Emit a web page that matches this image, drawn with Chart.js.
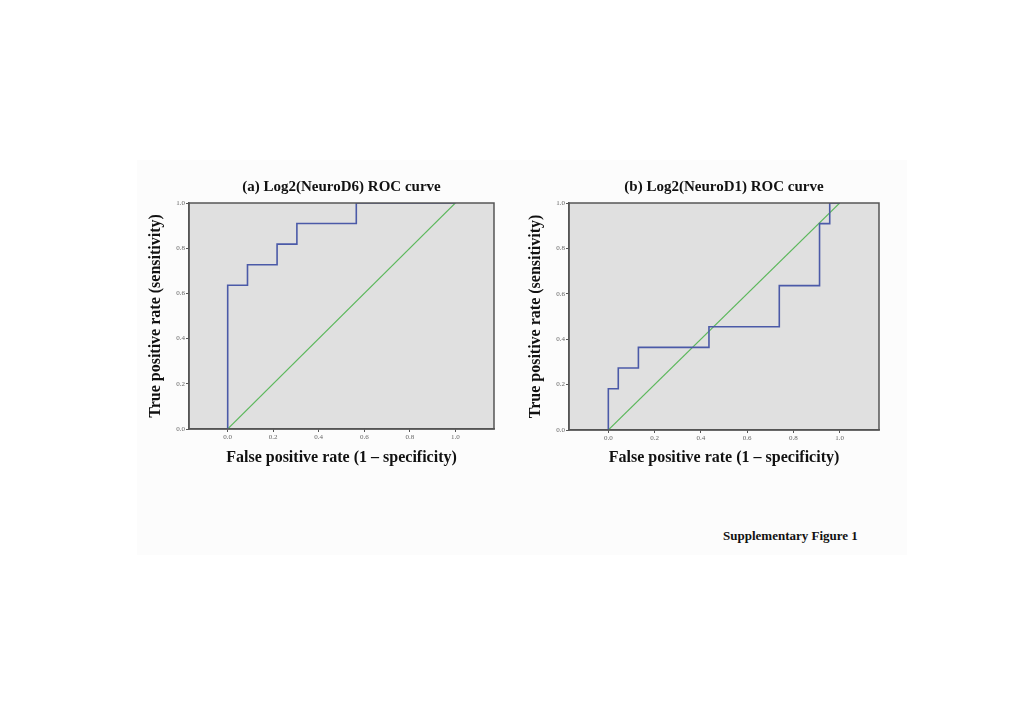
<!DOCTYPE html>
<html>
<head>
<meta charset="utf-8">
<script src="https://cdn.jsdelivr.net/npm/chart.js@4.4.1/dist/chart.umd.min.js"></script>
<style>
    body { margin: 0; background: #fff; width: 1020px; height: 720px; position: relative; overflow: hidden; }
    .paper { position: absolute; left: 137px; top: 160px; width: 770px; height: 395px; background: #fcfcfc; }
    canvas { position: absolute; }
    #chartD6 { left: 140px; top: 170px; }
    #chartD1 { left: 520px; top: 170px; }
    .caption { position: absolute; left: 723px; top: 528px; font: bold 13px "Liberation Serif", serif; color: #111; }
</style>
</head>
<body>
<div class="paper"></div>
<canvas id="chartD6" width="370" height="300"></canvas>
<canvas id="chartD1" width="370" height="300"></canvas>
<div class="caption">Supplementary Figure 1</div>

<script>
// Đỉnh của đường ROC (vẽ dạng bậc thang)
const fprD6 = [0, 0, 0.087, 0.217, 0.304, 0.565, 1];
const tprD6 = [0, 0.636, 0.727, 0.818, 0.909, 1, 1];

const fprD1 = [0, 0, 0.043, 0.130, 0.435, 0.739, 0.913, 0.957, 1];
const tprD1 = [0, 0.182, 0.273, 0.364, 0.455, 0.636, 0.909, 1, 1];

// Đường tham chiếu
const refX = [0, 1];
const refY = [0, 1];

const axisTicks = [0, 0.2, 0.4, 0.6, 0.8, 1.0];

const serif = '"Liberation Serif", "Times New Roman", serif';

// Nền xám và khung viền
const plotBox = {
    id: 'plotBox',
    beforeDraw(chart) {
        const a = chart.chartArea;
        const ctx = chart.ctx;
        ctx.save();
        ctx.fillStyle = '#e0e0e0';
        ctx.fillRect(a.left, a.top, a.right - a.left, a.bottom - a.top);
        ctx.restore();
    },
    afterDraw(chart) {
        const a = chart.chartArea;
        const ctx = chart.ctx;
        ctx.save();
        ctx.strokeStyle = '#555';
        ctx.lineWidth = 1.5;
        ctx.strokeRect(a.left, a.top, a.right - a.left, a.bottom - a.top);
        ctx.restore();
    }
};

function toPoints(xs, ys) {
    return xs.map((x, i) => ({ x: x, y: ys[i] }));
}

function initRocChart(id, title, xs, ys, padRight, xHeight) {
    const ctx = document.getElementById(id).getContext('2d');
    return new Chart(ctx, {
        type: 'line',
        data: {
            datasets: [{
                data: toPoints(xs, ys),
                borderColor: '#4b5aa8',
                borderWidth: 1.6,
                stepped: 'before',
                pointRadius: 0,
                fill: false
            }, {
                data: toPoints(refX, refY),
                borderColor: '#5cb85c',
                borderWidth: 1.1,
                pointRadius: 0,
                fill: false
            }]
        },
        options: {
            responsive: false,
            animation: false,
            devicePixelRatio: 1,
            layout: { padding: { left: 0, right: padRight, top: 0, bottom: 0 } },
            plugins: {
                legend: { display: false },
                tooltip: { enabled: false },
                title: {
                    display: true,
                    text: title,
                    fullSize: false,
                    color: '#111',
                    font: { family: serif, size: 15, weight: 'bold' },
                    padding: { top: 8, bottom: 7 }
                }
            },
            scales: {
                x: {
                    type: 'linear',
                    min: -0.17,
                    max: 1.17,
                    afterBuildTicks: function(scale) {
                        scale.ticks = axisTicks.map(v => ({ value: v }));
                    },
                    afterFit: function(scale) { scale.height = xHeight; },
                    grid: { display: true, drawOnChartArea: false, drawTicks: true, tickLength: 3, color: '#555' },
                    border: { display: true, color: '#555', width: 1.5 },
                    ticks: {
                        autoSkip: false,
                        maxRotation: 0,
                        padding: 1,
                        color: '#666',
                        font: { family: serif, size: 7 },
                        callback: v => Number(v).toFixed(1)
                    },
                    title: {
                        display: true,
                        text: 'False positive rate (1 – specificity)',
                        color: '#111',
                        font: { family: serif, size: 16, weight: 'bold' },
                        padding: { top: 0, bottom: 3 }
                    }
                },
                y: {
                    type: 'linear',
                    min: 0,
                    max: 1,
                    afterBuildTicks: function(scale) {
                        scale.ticks = axisTicks.map(v => ({ value: v }));
                    },
                    afterFit: function(scale) { scale.width = 49; },
                    grid: { display: true, drawOnChartArea: false, drawTicks: true, tickLength: 3, color: '#555' },
                    border: { display: true, color: '#555', width: 1.5 },
                    ticks: {
                        padding: 1,
                        color: '#666',
                        font: { family: serif, size: 7 },
                        callback: v => Number(v).toFixed(1)
                    },
                    title: {
                        display: true,
                        text: 'True positive rate (sensitivity)',
                        color: '#111',
                        font: { family: serif, size: 16, weight: 'bold' },
                        padding: { top: 6, bottom: 0 }
                    }
                }
            }
        },
        plugins: [plotBox]
    });
}

initRocChart('chartD6', '(a) Log2(NeuroD6) ROC curve', fprD6, tprD6, 16, 41);
initRocChart('chartD1', '(b) Log2(NeuroD1) ROC curve', fprD1, tprD1, 11, 40);
</script>
</body>
</html>
